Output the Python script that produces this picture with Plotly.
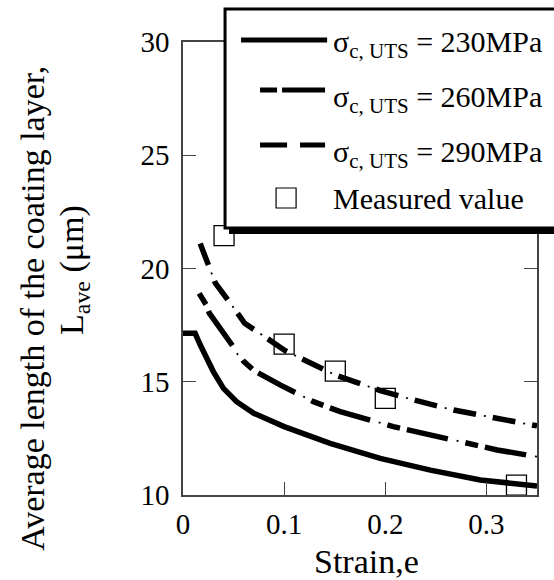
import plotly.graph_objects as go

# ---- data ----
strain_230 = [0, 0.012, 0.017, 0.0235, 0.030, 0.040, 0.053, 0.070, 0.0894, 0.1, 0.1455, 0.195, 0.2446, 0.294, 0.35]
lave_230 = [17.14, 17.14, 16.63, 16.04, 15.45, 14.71, 14.12, 13.61, 13.24, 13.02, 12.28, 11.62, 11.10, 10.66, 10.40]

strain_260 = [0.016, 0.023, 0.026, 0.053, 0.06, 0.07, 0.083, 0.096, 0.129, 0.1555, 0.208, 0.261, 0.3106, 0.35]
lave_260 = [18.9, 18.39, 18.03, 16.26, 15.9, 15.5, 15.15, 14.86, 14.12, 13.68, 13.02, 12.50, 11.99, 11.69]

strain_290 = [0.017, 0.026, 0.032, 0.048, 0.061, 0.083, 0.101, 0.1505, 0.195, 0.228, 0.2676, 0.310, 0.35]
lave_290 = [21.1, 20.04, 19.35, 18.39, 17.58, 16.92, 16.37, 15.30, 14.61, 14.2, 13.75, 13.39, 13.05]

strain_meas = [0.0406, 0.1, 0.1506, 0.2, 0.3297]
lave_meas = [21.45, 16.66, 15.47, 14.27, 10.44]

x_ticks = [0, 0.1, 0.2, 0.3]
x_ticklabels = ["0", "0.1", "0.2", "0.3"]
y_ticks = [10, 15, 20, 25, 30]
y_ticklabels = ["10", "15", "20", "25", "30"]

legend_labels = ["σ<sub>c, UTS</sub> = 230MPa", "σ<sub>c, UTS</sub> = 260MPa",
                 "σ<sub>c, UTS</sub> = 290MPa", "Measured value"]

# ---- layout geometry ----
W, H = 554, 580
L, R, T, B = 183, 17.3, 42, 85
PW, PH = W - L - R, H - T - B
FONT = "Liberation Serif, Times New Roman, serif"


def px(xp):
    return (xp - L) / PW


def py(yp):
    return (H - B - yp) / PH


fig = go.Figure()

# 230 MPa solid
fig.add_trace(go.Scatter(x=strain_230, y=lave_230, mode="lines",
                         line=dict(color="black", width=5.5), showlegend=False))
# 260 MPa: thin dots + thick dashes
fig.add_trace(go.Scatter(x=strain_260, y=lave_260, mode="lines",
                         line=dict(color="black", width=1.8, dash="0px,71px,2px,7px"), showlegend=False))
fig.add_trace(go.Scatter(x=strain_260, y=lave_260, mode="lines",
                         line=dict(color="black", width=5.5, dash="13px,7px,42px,18px"), showlegend=False))
# 290 MPa: thin dots + thick dashes
fig.add_trace(go.Scatter(x=strain_290, y=lave_290, mode="lines",
                         line=dict(color="black", width=1.8, dash="0px,31px,2px,7px"), showlegend=False))
fig.add_trace(go.Scatter(x=strain_290, y=lave_290, mode="lines",
                         line=dict(color="black", width=5.5, dash="23px,17px"), showlegend=False))
# measured
fig.add_trace(go.Scatter(x=strain_meas, y=lave_meas, mode="markers",
                         marker=dict(symbol="square-open", size=20, color="black",
                                     line=dict(width=1.3, color="black")),
                         showlegend=False, cliponaxis=False))

shapes = []
# legend box (white with thick border) and shadow
shapes.append(dict(type="rect", xref="paper", yref="paper", layer="above",
                   x0=px(225), x1=px(620), y0=py(228), y1=py(9),
                   fillcolor="white", line=dict(color="black", width=3)))
shapes.append(dict(type="rect", xref="paper", yref="paper", layer="above",
                   x0=px(229), x1=px(620), y0=py(234), y1=py(227),
                   fillcolor="black", line=dict(width=0)))
# legend samples
shapes.append(dict(type="line", xref="paper", yref="paper", layer="above",
                   x0=px(241), x1=px(327), y0=py(40), y1=py(40),
                   line=dict(color="black", width=5)))
shapes.append(dict(type="line", xref="paper", yref="paper", layer="above",
                   x0=px(260), x1=px(325), y0=py(90), y1=py(90),
                   line=dict(color="black", width=5, dash="17px,5px,43px,10px")))
shapes.append(dict(type="line", xref="paper", yref="paper", layer="above",
                   x0=px(260), x1=px(325), y0=py(145), y1=py(145),
                   line=dict(color="black", width=5, dash="27px,13px,25px,10px")))
shapes.append(dict(type="rect", xref="paper", yref="paper", layer="above",
                   x0=px(276), x1=px(296), y0=py(208), y1=py(188),
                   fillcolor="rgba(0,0,0,0)", line=dict(color="black", width=1.2)))

annotations = []
row_y = [44, 99, 154, 198]
for lab, yy in zip(legend_labels, row_y):
    annotations.append(dict(text=lab, xref="paper", yref="paper", x=px(331), y=py(yy),
                            xanchor="left", yanchor="middle", showarrow=False,
                            font=dict(family=FONT, size=30, color="black")))

# axis titles
annotations.append(dict(text="Strain,e", xref="paper", yref="paper", x=px(366), y=py(561),
                        xanchor="center", yanchor="middle", showarrow=False,
                        font=dict(family=FONT, size=34, color="black")))
annotations.append(dict(text="Average length of the coating layer,", xref="paper", yref="paper",
                        x=px(32), y=py(308), xanchor="center", yanchor="middle", textangle=-90,
                        showarrow=False, font=dict(family=FONT, size=34, color="black")))
annotations.append(dict(text="L<sub>ave</sub> (μm)", xref="paper", yref="paper",
                        x=px(74), y=py(270), xanchor="center", yanchor="middle", textangle=-90,
                        showarrow=False, font=dict(family=FONT, size=34, color="black")))

axis_common = dict(showgrid=False, zeroline=False, showline=True, linecolor="#444", linewidth=1.5,
                   ticks="inside", ticklen=13, tickwidth=1.2, tickcolor="#444", mirror="ticks",
                   tickfont=dict(family=FONT, size=29, color="black"))

fig.update_layout(
    width=W, height=H,
    margin=dict(l=L, r=R, t=T, b=B),
    paper_bgcolor="white", plot_bgcolor="white",
    xaxis=dict(range=[0, 0.35], tickvals=x_ticks, ticktext=x_ticklabels,
               ticklabelstandoff=2, **axis_common),
    yaxis=dict(range=[10, 30], tickvals=y_ticks, ticktext=y_ticklabels,
               ticklabelstandoff=6, **axis_common),
    shapes=shapes, annotations=annotations, showlegend=False,
)

fig.write_html("out.html", config={"displayModeBar": False},
               post_script="document.body.style.margin='0px';")
